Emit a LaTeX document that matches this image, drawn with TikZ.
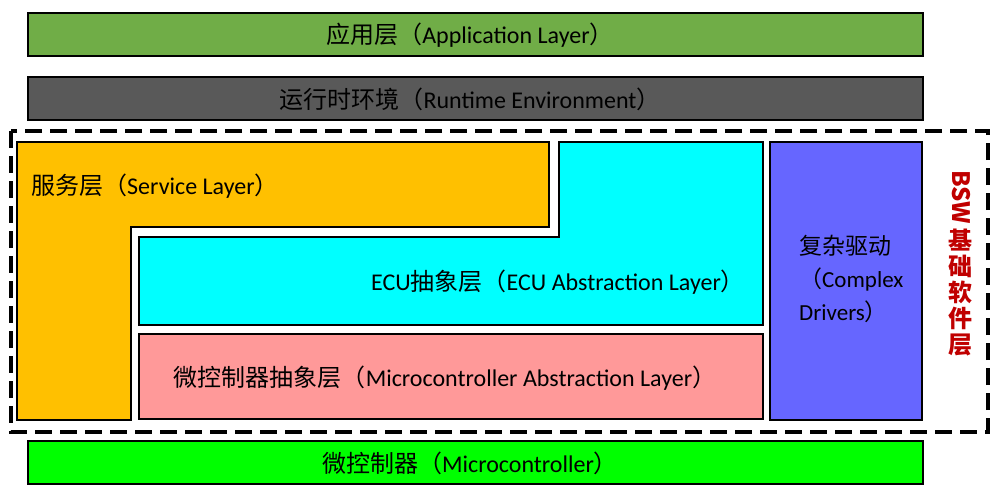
\documentclass[tikz,border=0pt]{standalone}
\usepackage{fontspec}
\setmainfont{Carlito}
\newfontfamily\cjk{Noto Sans CJK SC}
\newcommand\zh[1]{{\cjk #1}}
\definecolor{appgreen}{HTML}{70AD47}
\definecolor{rtegray}{HTML}{595959}
\definecolor{svcorange}{HTML}{FFC000}
\definecolor{ecucyan}{HTML}{00FFFF}
\definecolor{mcalpink}{HTML}{FF9999}
\definecolor{cddblue}{HTML}{6666FF}
\definecolor{mcugreen}{HTML}{00FF00}
\definecolor{bswred}{HTML}{C00000}
\begin{document}
\begin{tikzpicture}[x=1pt,y=-1pt,
  box/.style={draw=black,line width=2pt,line join=miter},
  lbl/.style={font=\fontsize{24}{28}\selectfont,text=black,inner sep=0pt},
  bsw/.style={font=\fontsize{24}{26}\selectfont\bfseries\cjk,text=bswred,inner sep=0pt},
]
\useasboundingbox (0,0) rectangle (1000,490);
\fill[white] (0,0) rectangle (1000,490);
% top layers
\draw[box,fill=appgreen] (28,13) rectangle (923,56);
\node[lbl] (app) at (470,35) {\zh{应用层（}Application Layer\zh{）}};
\draw[box,fill=rtegray] (28,77) rectangle (923,120);
\node[lbl] (rte) at (470,99) {\zh{运行时环境（}Runtime Environment\zh{）}};
% BSW frame
\draw[black,line width=3.5pt,dash pattern=on 17pt off 8pt] (11,131) rectangle (988,432);
% service layer
\draw[box,fill=svcorange] (17,142) -- (549,142) -- (549,227) -- (131,227) -- (131,420) -- (17,420) -- cycle;
\node[lbl,anchor=west] (svc) at (31,186) {\zh{服务层（}Service Layer\zh{）}};
% ECU abstraction
\draw[box,fill=ecucyan] (559,142) -- (763,142) -- (763,325) -- (139,325) -- (139,237) -- (559,237) -- cycle;
\node[lbl] (ecu) at (558,282) {ECU\zh{抽象层（}ECU Abstraction Layer\zh{）}};
% MCAL
\draw[box,fill=mcalpink] (139,334) rectangle (763,419);
\node[lbl] (mcal) at (445,378) {\zh{微控制器抽象层（}Microcontroller Abstraction Layer\zh{）}};
% complex drivers
\draw[box,fill=cddblue] (770,142) rectangle (922,420);
\node[lbl,anchor=north west,align=left,font=\fontsize{23}{33}\selectfont] (cdd) at (799,235) {\zh{复杂驱动}\\\zh{（}Complex\\Drivers\zh{）}};
% BSW label
\node[bsw,rotate=-90] (bswL) at (961,197) {BSW};
\node[bsw,align=center,anchor=north] (bswC) at (960,229) {基\\础\\软\\件\\层};
% microcontroller
\draw[box,fill=mcugreen] (28,441) rectangle (923,484);
\node[lbl] (mcu) at (470,463) {\zh{微控制器（}Microcontroller\zh{）}};
\end{tikzpicture}
\end{document}
